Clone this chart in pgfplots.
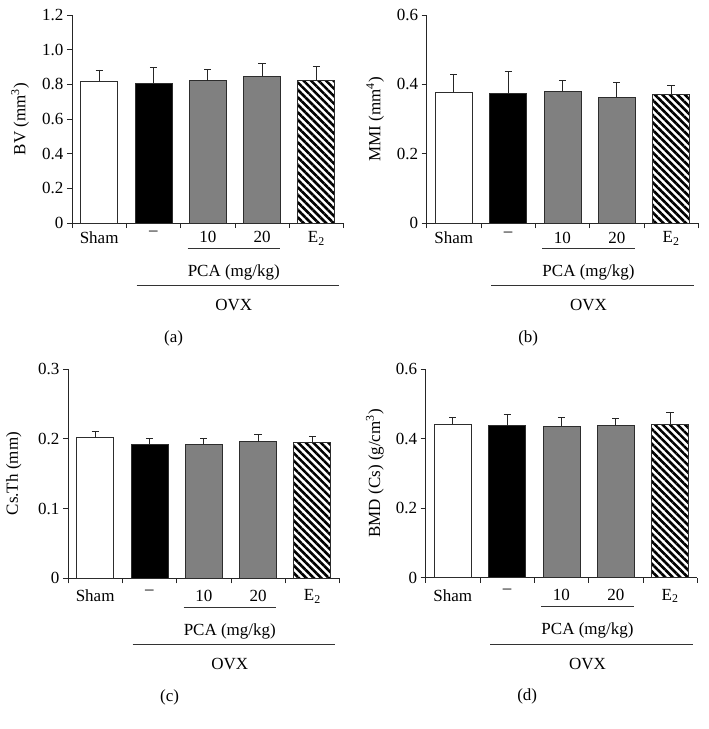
\documentclass[border=0pt]{standalone}
\usepackage{fontspec}
\setmainfont{Liberation Serif}
\usepackage{pgfplots}
\pgfplotsset{compat=1.18}
\usetikzlibrary{patterns.meta}

\definecolor{barg}{RGB}{128,128,128}
\definecolor{edge}{RGB}{45,45,45}

\newcommand{\fnt}{\fontsize{17}{20}\selectfont}

\pgfplotsset{
  panel/.style={
    scale only axis, width=271.5pt,
    axis lines=left,
    axis line style={-, line width=0.8pt, black!85},
    xmin=-0.5, xmax=4.5, ymin=0,
    xtick={0,1,2,3,4},
    xticklabels={Sham,--,10,20,E\textsubscript{2}},
    minor xtick={-0.5,0.5,1.5,2.5,3.5,4.5},
    major x tick style={draw=none},
    tick align=outside,
    major tick length=5pt, minor tick length=5pt,
    every tick/.style={line width=0.8pt, black!85},
    tick label style={font=\fnt},
    xticklabel style={yshift=0pt},
    label style={font=\fnt},
    /pgf/number format/assume math mode=true,
    ybar, bar width=37pt,
    clip=false,
  },
  bar/.style={bar shift=0pt, draw=edge, line width=0.8pt,
    error bars/y dir=plus, error bars/y explicit,
    error bars/error bar style={line width=0.9pt, black!85},
    error bars/error mark options={rotate=90, mark size=3.6pt, line width=0.9pt, black!85}},
  sham/.style={bar, fill=white},
  ovx/.style={bar, fill=black},
  pca/.style={bar, fill=barg},
  etwo/.style={bar, pattern={Lines[angle=-45, distance=5.3pt, line width=2.6pt]}, pattern color=black},
}

\newcommand{\annot}[2]{%
  \draw[line width=0.8pt, black!80] ([yshift=-25pt-#1]axis cs:1.63,0) -- ([yshift=-25pt-#1]axis cs:3.33,0);
  \node[font=\fnt] at ([yshift=-49pt-#1]axis cs:2.48,0) {PCA (mg/kg)};
  \draw[line width=0.8pt, black!80] ([yshift=-62.5pt-#1]axis cs:0.69,0) -- ([yshift=-62.5pt-#1]axis cs:4.42,0);
  \node[font=\fnt] at ([yshift=-82pt-#1]axis cs:2.48,0) {OVX};
  \node[font=\fnt] at ([yshift=-115pt-#1]axis cs:1.37,0) {(#2)};
}

\begin{document}
\begin{tikzpicture}
\useasboundingbox (0,0) rectangle (709pt,-729pt);

% (a)
\begin{axis}[panel, at={(72pt,-223pt)}, anchor=south west, height=208pt,
  ymax=1.2, ytick={0,0.2,0.4,0.6,0.8,1.0,1.2},
  yticklabels={0,0.2,0.4,0.6,0.8,1.0,1.2},
  ylabel={BV (mm\textsuperscript{3})},
  ylabel style={at={(axis description cs:-0.1915,0.5)}, anchor=center}]
\addplot[sham] coordinates {(0,0.817) +- (0,0.066)};
\addplot[ovx]  coordinates {(1,0.808) +- (0,0.088)};
\addplot[pca]  coordinates {(2,0.821) +- (0,0.064)};
\addplot[pca]  coordinates {(3,0.846) +- (0,0.077)};
\addplot[etwo] coordinates {(4,0.823) +- (0,0.081)};
\annot{0pt}{a}
\end{axis}

% (b)
\begin{axis}[panel, at={(426.7pt,-223.3pt)}, anchor=south west, height=208.3pt,
  ymax=0.6, ytick={0,0.2,0.4,0.6},
  yticklabels={0,0.2,0.4,0.6},
  ylabel={MMI (mm\textsuperscript{4})},
  ylabel style={at={(axis description cs:-0.19,0.5)}, anchor=center}]
\addplot[sham] coordinates {(0,0.377) +- (0,0.051)};
\addplot[ovx]  coordinates {(1,0.374) +- (0,0.063)};
\addplot[pca]  coordinates {(2,0.380) +- (0,0.031)};
\addplot[pca]  coordinates {(3,0.363) +- (0,0.044)};
\addplot[etwo] coordinates {(4,0.372) +- (0,0.025)};
\annot{0pt}{b}
\end{axis}

% (c)
\begin{axis}[panel, at={(68pt,-578.3pt)}, anchor=south west, height=209.3pt,
  ymax=0.3, ytick={0,0.1,0.2,0.3},
  yticklabels={0,0.1,0.2,0.3},
  ylabel={Cs.Th (mm)},
  ylabel style={at={(axis description cs:-0.2,0.5)}, anchor=center},
  xticklabel style={yshift=-3pt}]
\addplot[sham] coordinates {(0,0.2016) +- (0,0.0095)};
\addplot[ovx]  coordinates {(1,0.1920) +- (0,0.0080)};
\addplot[pca]  coordinates {(2,0.1925) +- (0,0.0075)};
\addplot[pca]  coordinates {(3,0.1960) +- (0,0.0100)};
\addplot[etwo] coordinates {(4,0.1945) +- (0,0.0085)};
\annot{4pt}{c}
\end{axis}

% (d)
\begin{axis}[panel, at={(425.7pt,-577.7pt)}, anchor=south west, height=208.7pt,
  ymax=0.6, ytick={0,0.2,0.4,0.6},
  yticklabels={0,0.2,0.4,0.6},
  ylabel={BMD (Cs) (g/cm\textsuperscript{3})},
  ylabel style={at={(axis description cs:-0.187,0.5)}, anchor=center},
  xticklabel style={yshift=-3pt}]
\addplot[sham] coordinates {(0,0.4410) +- (0,0.019)};
\addplot[ovx]  coordinates {(1,0.4365) +- (0,0.032)};
\addplot[pca]  coordinates {(2,0.4360) +- (0,0.025)};
\addplot[pca]  coordinates {(3,0.4365) +- (0,0.022)};
\addplot[etwo] coordinates {(4,0.4410) +- (0,0.034)};
\annot{4pt}{d}
\end{axis}
\end{tikzpicture}
\end{document}
